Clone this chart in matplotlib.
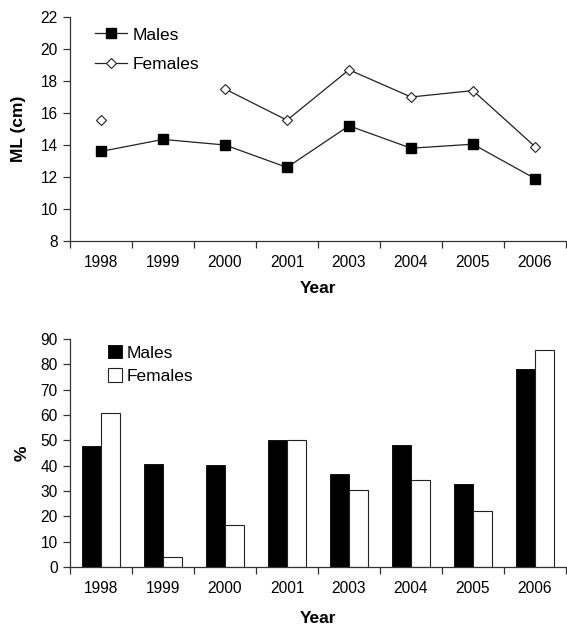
import numpy as np
import matplotlib.pyplot as plt

plt.rcParams['font.family'] = ['Liberation Sans', 'DejaVu Sans']

years = ['1998', '1999', '2000', '2001', '2003', '2004', '2005', '2006']

# mean mantle length (cm)
ml_males = [13.6, 14.35, 14.0, 12.6, 15.2, 13.8, 14.05, 11.9]
ml_females = [15.55, np.nan, 17.5, 15.55, 18.7, 17.0, 17.4, 13.9]

# percentage per year
pct_males = [47.8, 40.8, 40.2, 50.3, 36.8, 48.0, 32.6, 78.3]
pct_females = [60.8, 3.9, 16.6, 50.0, 30.4, 34.2, 22.2, 85.8]

x = np.arange(len(years))
axcol = '#333333'

fig = plt.figure(figsize=(5.67, 6.26), dpi=100)
ax1 = fig.add_axes([70/567, 1-241/626, 496/567, 224/626])
ax2 = fig.add_axes([70/567, 1-567/626, 496/567, 228/626])


def style(ax):
    for s in ['top', 'right']:
        ax.spines[s].set_visible(False)
    for s in ['left', 'bottom']:
        ax.spines[s].set_color(axcol)
        ax.spines[s].set_linewidth(0.9)
    ax.set_xlim(-0.5, len(years) - 0.5)
    ax.set_xticks(np.arange(len(years) + 1) - 0.5)
    ax.set_xticklabels([])
    ax.set_xticks(x, minor=True)
    ax.set_xticklabels(years, minor=True)
    ax.tick_params(axis='x', which='major', direction='out', length=5,
                   width=0.9, color=axcol)
    ax.tick_params(axis='x', which='minor', length=0, pad=10, labelsize=11.2)
    ax.tick_params(axis='y', direction='out', length=5, width=0.9,
                   color=axcol, labelsize=11.2, pad=4)


# top: mantle length lines
ax1.plot(x, ml_males, color='#222222', lw=0.9, marker='s', ms=7.5,
         mfc='black', mec='black', label='Males')
ax1.plot(x, ml_females, color='#222222', lw=0.9, marker='D', ms=5,
         mfc='white', mec='#222222', mew=0.8, label='Females')
ax1.set_ylim(8, 22)
ax1.set_yticks(np.arange(8, 23, 2))
style(ax1)
ax1.set_xlabel('Year', fontsize=12.5, fontweight='bold', labelpad=8)
ax1.set_ylabel('ML (cm)', fontsize=12.5, fontweight='bold', labelpad=10)
ax1.legend(loc='upper left', bbox_to_anchor=(0.03, 1.0), frameon=False,
           fontsize=12.5, handlelength=1.85, handletextpad=0.3,
           labelspacing=0.85, borderaxespad=0.2)

# bottom: percentages as paired bars
w = 0.3
ax2.bar(x - w/2, pct_males, width=w, color='black', edgecolor='black',
        linewidth=0.6, label='Males')
ax2.bar(x + w/2, pct_females, width=w, color='white', edgecolor='#222222',
        linewidth=0.8, label='Females')
ax2.set_ylim(0, 90)
ax2.set_yticks(np.arange(0, 91, 10))
style(ax2)
ax2.set_xlabel('Year', fontsize=12.5, fontweight='bold', labelpad=11)
ax2.set_ylabel('%', fontsize=12.5, fontweight='bold', labelpad=8)
ax2.legend(loc='upper left', bbox_to_anchor=(0.055, 1.02), frameon=False,
           fontsize=12.5, handlelength=0.8, handleheight=0.8,
           handletextpad=0.3, labelspacing=0.45, borderaxespad=0.2)

fig.savefig('out.png', dpi=100)
